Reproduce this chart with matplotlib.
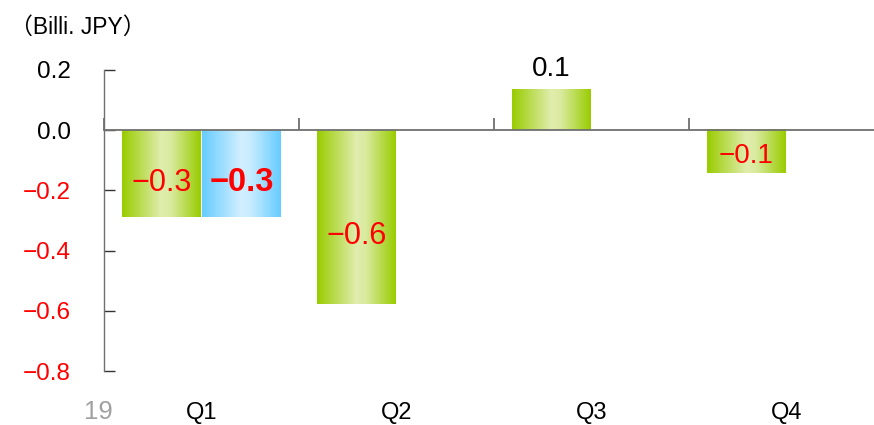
import numpy as np
import matplotlib
matplotlib.use("Agg")
import matplotlib.pyplot as plt
import matplotlib.transforms as mtransforms
from matplotlib.colors import LinearSegmentedColormap

categories = ["Q1", "Q2", "Q3", "Q4"]
series_a = [-0.287, -0.577, 0.133, -0.143]
series_b = [-0.287, None, None, None]
labels_a = ["−0.3", "−0.6", "0.1", "−0.1"]
labels_b = ["−0.3", None, None, None]
yticks = [0.2, 0.0, -0.2, -0.4, -0.6, -0.8]
unit_label = "（Billi. JPY）"
year_label = "19"

plt.rcParams['font.family'] = ['Liberation Sans', 'Noto Sans CJK JP', 'DejaVu Sans']

W, H = 874, 425
fig = plt.figure(figsize=(W / 100, H / 100), dpi=100)
ax = fig.add_axes([104 / W, (H - 371) / H, (W - 104) / W, (371 - 70) / H])

green_cmap = LinearSegmentedColormap.from_list(
    "g", [(0, "#99cc00"), (0.5, "#e0edae"), (0.62, "#d9ea9f"), (1, "#99cc00")])
blue_cmap = LinearSegmentedColormap.from_list(
    "b", [(0, "#66ccff"), (0.5, "#d2efff"), (0.62, "#c6ebff"), (1, "#66ccff")])

x = np.arange(len(categories)) + 0.5
bw = 0.405
off = 0.205
label_sizes = [22, 22, 20, 20]

grad = np.linspace(0, 1, 256).reshape(1, -1)


def grad_bar(xc, v, cmap):
    b = ax.bar(xc, v, width=bw, color="none", edgecolor="none")[0]
    x0, w = b.get_x(), b.get_width()
    y0, h = b.get_y(), b.get_height()
    ax.imshow(grad, cmap=cmap, aspect="auto",
              extent=[x0, x0 + w, min(y0, y0 + h), max(y0, y0 + h)],
              zorder=2, interpolation="bicubic")


for i, v in enumerate(series_a):
    grad_bar(x[i] - off, v, green_cmap)
    if v < 0:
        ax.text(x[i] - off, v * 0.61, labels_a[i], ha="center", va="center",
                color="#ff0000", fontsize=label_sizes[i], zorder=5)
    else:
        ax.text(x[i] - off, v + 0.07, labels_a[i], ha="center", va="center",
                color="#000000", fontsize=label_sizes[i], zorder=5)

for i, v in enumerate(series_b):
    if v is None:
        continue
    grad_bar(x[i] + off, v, blue_cmap)
    ax.text(x[i] + off, v * 0.6, labels_b[i], ha="center", va="center",
            color="#ff0000", fontsize=23.5, fontweight="bold", zorder=5)

for s in ["top", "right"]:
    ax.spines[s].set_visible(False)
ax.spines["bottom"].set_position(("data", 0))
ax.spines["bottom"].set_color("#707070")
ax.spines["bottom"].set_linewidth(1.3)
ax.spines["left"].set_color("#707070")
ax.spines["left"].set_linewidth(1.0)
ax.spines["bottom"].set_zorder(3)

ax.set_yticks(yticks)
ax.set_yticklabels([f"{t:.1f}".replace("-", "−") for t in yticks], fontsize=17.5)
for lab, t in zip(ax.get_yticklabels(), yticks):
    lab.set_color("#ff0000" if t < 0 else "#000000")
ax.tick_params(axis="y", direction="in", length=8, width=1, color="#333333", pad=24)

ax.set_xticks(np.arange(len(categories) + 1))
ax.set_xticklabels([])
ax.tick_params(axis="x", direction="in", length=9, width=1.3, color="#707070")

ax.set_xlim(0, (W - 104) / 195)
ax.set_ylim(-0.8, 0.2)

trans = mtransforms.blended_transform_factory(ax.transData, fig.transFigure)
for xi, c in zip(x, categories):
    ax.text(xi, (H - 413) / H, c, transform=trans, ha="center", va="center",
            fontsize=17, color="#000000", clip_on=False)

fig.text(98 / W, (H - 412) / H, year_label, ha="center", va="center",
         fontsize=18.5, color="#a0a0a0")
fig.text(10 / W, (H - 27) / H, unit_label, ha="left", va="center",
         fontsize=16.5, color="#000000")

fig.savefig("out.png", dpi=100)
